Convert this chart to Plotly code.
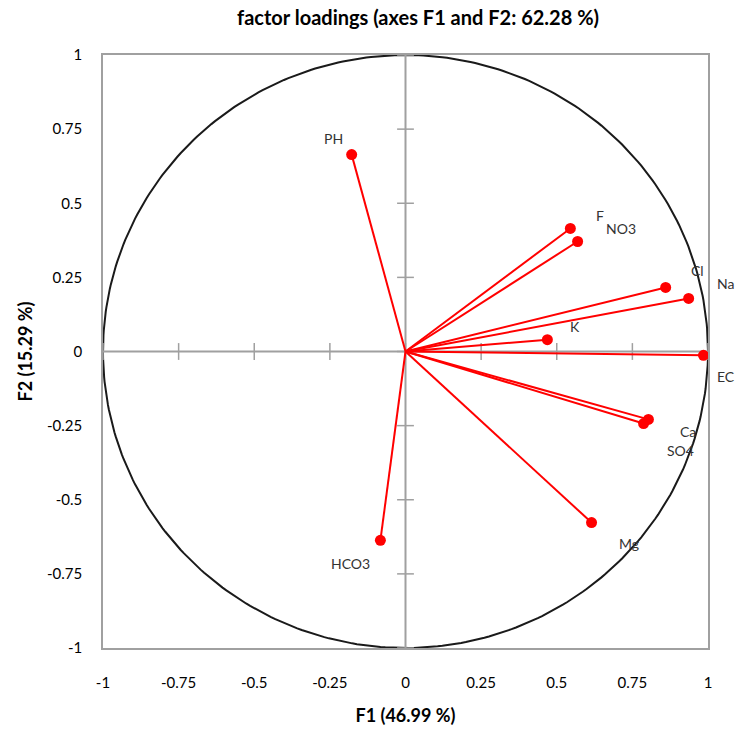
import numpy as np
import plotly.graph_objects as go

variables = ["PH", "F", "NO3", "Cl", "Na", "K", "EC", "Ca", "SO4", "Mg", "HCO3"]
f1 = [-0.178, 0.545, 0.569, 0.860, 0.936, 0.469, 0.985, 0.803, 0.787, 0.615, -0.083]
f2 = [0.664, 0.415, 0.371, 0.216, 0.179, 0.040, -0.013, -0.229, -0.243, -0.577, -0.637]
# label pixel offsets (style)
label_dx = [-18, 30, 43, 32, 37, 28, 23, 40, 37, 37, -30]
label_dy = [16, 13, 13, 17, 15, 13, -21, -12, -27, -21, -23]
tick_vals = [-1, -0.75, -0.5, -0.25, 0, 0.25, 0.5, 0.75, 1]
tick_text = ["-1", "-0.75", "-0.5", "-0.25", "0", "0.25", "0.5", "0.75", "1"]

FONT = "Lato"
fig = go.Figure()

# unit circle
t = np.linspace(0, 2 * np.pi, 400)
fig.add_trace(go.Scatter(x=np.cos(t), y=np.sin(t), mode="lines",
                         line=dict(color="#1a1a1a", width=2), hoverinfo="skip", showlegend=False))

# center axes with cross ticks
fig.add_trace(go.Scatter(x=[-1, 1], y=[0, 0], mode="lines", line=dict(color="#a0a0a0", width=2),
                         showlegend=False, hoverinfo="skip"))
fig.add_trace(go.Scatter(x=[0, 0], y=[-1, 1], mode="lines", line=dict(color="#a0a0a0", width=2),
                         showlegend=False, hoverinfo="skip"))
fig.add_trace(go.Scatter(x=tick_vals, y=[0] * len(tick_vals), mode="markers",
                         marker=dict(symbol="line-ns", size=12, line=dict(color="#a0a0a0", width=1.5)),
                         showlegend=False, hoverinfo="skip"))
fig.add_trace(go.Scatter(x=[0] * len(tick_vals), y=tick_vals, mode="markers",
                         marker=dict(symbol="line-ew", size=12, line=dict(color="#a0a0a0", width=1.5)),
                         showlegend=False, hoverinfo="skip"))

# loading vectors
for xv, yv in zip(f1, f2):
    fig.add_trace(go.Scatter(x=[0, xv], y=[0, yv], mode="lines",
                             line=dict(color="#ff0000", width=2), showlegend=False, hoverinfo="skip"))
fig.add_trace(go.Scatter(x=f1, y=f2, mode="markers", marker=dict(color="#ff0000", size=11),
                         showlegend=False, text=variables))

for name, xv, yv, dx, dy in zip(variables, f1, f2, label_dx, label_dy):
    fig.add_annotation(x=xv, y=yv, text=name, showarrow=False, xshift=dx, yshift=dy,
                       font=dict(family=FONT, size=14, color="#333333"))

fig.update_layout(
    width=736, height=729,
    margin=dict(l=103, r=28, t=55, b=81),
    paper_bgcolor="white", plot_bgcolor="white",
    title=dict(text="<b>factor loadings (axes F1 and F2: 62.28 %)</b>", x=0.568, xanchor="center",
               y=0.975, yanchor="middle", font=dict(family=FONT, size=20, color="black")),
    xaxis=dict(range=[-1, 1], tickvals=tick_vals, ticktext=tick_text, showgrid=False, zeroline=False,
               showline=True, linecolor="#a0a0a0", linewidth=1.5, mirror=True, ticks="", automargin=False,
               tickfont=dict(family=FONT, size=15, color="black"), ticklabelstandoff=20,
               title=dict(text="<b>F1 (46.99 %)</b>", font=dict(family=FONT, size=18, color="black"), standoff=20)),
    yaxis=dict(range=[-1, 1], tickvals=tick_vals, ticktext=tick_text, showgrid=False, zeroline=False,
               showline=True, linecolor="#a0a0a0", linewidth=1.5, mirror=True, ticks="", automargin=False,
               tickfont=dict(family=FONT, size=15, color="black"), ticklabelstandoff=16,
               title=dict(text="<b>F2 (15.29 %)</b>", font=dict(family=FONT, size=18, color="black"), standoff=10)),
)

fig.write_html("out.html")
